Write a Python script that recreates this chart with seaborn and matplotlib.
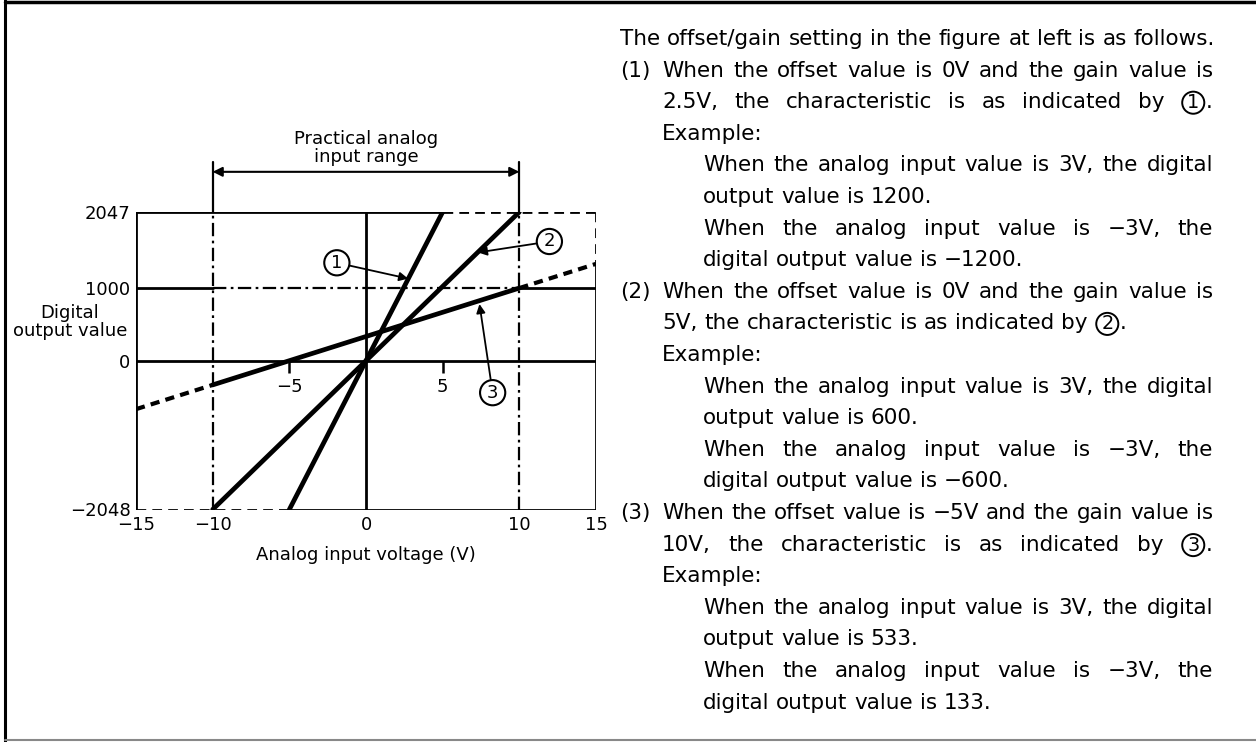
import numpy as np
import pandas as pd
import matplotlib
matplotlib.use("Agg")
import matplotlib.pyplot as plt
from matplotlib.lines import Line2D
import seaborn as sns

# characteristic lines (analog V -> digital value)
line1_x = [-5, 5]
line1_y = [-2048, 2047]
line2_x = [-10, 10]
line2_y = [-2048, 2047]
line3_x = [-10, 10]
line3_y = [-333, 1000]
line3_left_x = [-15, -10]
line3_left_y = [-667, -333]
line3_right_x = [10, 15]
line3_right_y = [1000, 1333]

x_lim = (-15, 15)
y_lim = (-2048, 2047)
xticks = [-15, -10, 0, 10, 15]
xtick_labels = ["\u221215", "\u221210", "0", "10", "15"]
yticks = [-2048, 0, 1000, 2047]
ytick_labels = ["\u22122048", "0", "1000", "2047"]
inner_ticks = [-5, 5]
inner_tick_labels = ["\u22125", "5"]
practical_range = [-10, 10]
mid_level = 1000

# right hand text: (item label, indent level, justified, text)
text_lines = [
    ("", 0, False, "The offset/gain setting in the figure at left is as follows."),
    ("(1)", 1, True, "When the offset value is 0V and the gain value is"),
    ("", 1, True, "2.5V, the characteristic is as indicated by \u2460."),
    ("", 1, False, "Example:"),
    ("", 2, True, "When the analog input value is 3V, the digital"),
    ("", 2, False, "output value is 1200."),
    ("", 2, True, "When the analog input value is \u22123V, the"),
    ("", 2, False, "digital output value is \u22121200."),
    ("(2)", 1, True, "When the offset value is 0V and the gain value is"),
    ("", 1, False, "5V, the characteristic is as indicated by \u2461."),
    ("", 1, False, "Example:"),
    ("", 2, True, "When the analog input value is 3V, the digital"),
    ("", 2, False, "output value is 600."),
    ("", 2, True, "When the analog input value is \u22123V, the"),
    ("", 2, False, "digital output value is \u2212600."),
    ("(3)", 1, True, "When the offset value is \u22125V and the gain value is"),
    ("", 1, True, "10V, the characteristic is as indicated by \u2462."),
    ("", 1, False, "Example:"),
    ("", 2, True, "When the analog input value is 3V, the digital"),
    ("", 2, False, "output value is 533."),
    ("", 2, True, "When the analog input value is \u22123V, the"),
    ("", 2, False, "digital output value is 133."),
]
circled = {"\u2460": "1", "\u2461": "2", "\u2462": "3"}

W, H = 1256, 742
sns.set_style("white")
plt.rcParams['font.family'] = ['DejaVu Sans']
plt.rcParams['text.color'] = 'black'
plt.rcParams['xtick.color'] = 'black'
plt.rcParams['ytick.color'] = 'black'
plt.rcParams['axes.labelcolor'] = 'black'

fig = plt.figure(figsize=(W / 100, H / 100), dpi=100)
ax = fig.add_axes([136 / W, 1 - 509.5 / H, 460 / W, 297.5 / H])
ax.set_xlim(*x_lim)
ax.set_ylim(*y_lim)
for s in ax.spines.values():
    s.set_visible(False)

k = 'black'
frame_lw = 2.0
dash = (0, (3.5, 2.2))
dashdot = (0, (6, 2, 1.2, 2))
cfs = 13

# frame and reference lines
ax.plot([x_lim[0]] * 2, y_lim, color=k, lw=frame_lw)
ax.plot([x_lim[0], line1_x[1]], [y_lim[1]] * 2, color=k, lw=frame_lw)
ax.plot([line1_x[1], x_lim[1]], [y_lim[1]] * 2, color=k, lw=frame_lw, ls=dash)
ax.plot([x_lim[1]] * 2, [y_lim[1], line3_right_y[1]], color=k, lw=frame_lw, ls=dash)
ax.plot([x_lim[1]] * 2, [line3_right_y[1], y_lim[0]], color=k, lw=frame_lw)
ax.plot([x_lim[0], line1_x[0]], [y_lim[0]] * 2, color=k, lw=frame_lw, ls=dash)
ax.plot([line1_x[0], x_lim[1]], [y_lim[0]] * 2, color=k, lw=frame_lw)
ax.plot(x_lim, [0, 0], color=k, lw=frame_lw)
ax.plot([0, 0], y_lim, color=k, lw=frame_lw)
ax.plot([x_lim[0], practical_range[0]], [mid_level] * 2, color=k, lw=frame_lw)
ax.plot(practical_range, [mid_level] * 2, color=k, lw=1.6, ls=dashdot)
ax.plot([practical_range[1], x_lim[1]], [mid_level] * 2, color=k, lw=frame_lw)
for xv in practical_range:
    ax.plot([xv, xv], y_lim, color=k, lw=1.6, ls=dashdot)
    ax.plot([xv, xv], [y_lim[1], 2737], color=k, lw=1.6, clip_on=False)

ax.vlines(inner_ticks, -165, 0, color=k, lw=1.8)
for xv, lab in zip(inner_ticks, inner_tick_labels):
    ax.text(xv, -360, lab, ha='center', va='center', fontsize=cfs)

# characteristic lines
for xs, ys in [(line1_x, line1_y), (line2_x, line2_y), (line3_x, line3_y)]:
    sns.lineplot(x=xs, y=ys, color=k, lw=3.4, ax=ax)
for xs, ys in [(line3_left_x, line3_left_y), (line3_right_x, line3_right_y)]:
    sns.lineplot(x=xs, y=ys, color=k, lw=3.0, ax=ax, linestyle=(0, (2.2, 1.5)))

ax.set_xticks(xticks, xtick_labels)
ax.set_yticks(yticks, ytick_labels)
ax.tick_params(axis='x', length=0, pad=5, labelsize=cfs)
ax.tick_params(axis='y', length=0, pad=4, labelsize=cfs)
ax.set_xlabel("Analog input voltage (V)", fontsize=cfs, labelpad=8)
ax.set_ylabel("")
ax.text(-19.3, 536, "Digital\noutput value", ha='center', va='center',
        fontsize=cfs, linespacing=1.0, clip_on=False)

# practical analog input range
ax.annotate('', xy=(practical_range[0], 2600), xytext=(practical_range[1], 2600),
            arrowprops=dict(arrowstyle='<|-|>', color=k, lw=1.5, shrinkA=0, shrinkB=0,
                            mutation_scale=14), annotation_clip=False)
ax.text(0, 2930, "Practical analog\ninput range", ha='center', va='center',
        fontsize=cfs, linespacing=1.0, clip_on=False)

# circled labels
circ = dict(boxstyle='circle,pad=0.2', fc='white', ec=k, lw=1.5)
labels = [('1', (-1.9, 1348), (2.75, 1130)),
          ('2', (11.96, 1641), (7.3, 1490)),
          ('3', (8.26, -440), (7.4, 780))]
for lab, pos, tip in labels:
    ax.annotate(lab, xy=tip, xytext=pos, ha='center', va='center', fontsize=cfs,
                bbox=circ, annotation_clip=False,
                arrowprops=dict(arrowstyle='-|>', color=k, lw=1.3, shrinkA=0, shrinkB=0,
                                mutation_scale=13))

# right hand text, justified like the manual
renderer = fig.canvas.get_renderer()
indent_px = [620, 662, 703]
right_px = 1213

# pick the size so the opening line has the manual's width
probe = fig.text(0, 0, text_lines[0][3], fontsize=10)
fs = 10 * (right_px - indent_px[0]) / probe.get_window_extent(renderer).width
probe.remove()
circ_d = fs * 1.389 * 1.2


def make_word(w, base):
    # list of (artist, width, is_circle)
    parts = []
    if w[0] in circled:
        a = fig.text(0, base, circled[w[0]], fontsize=fs * 0.9, va='baseline',
                     ha='center',
                     bbox=dict(boxstyle='circle,pad=0.08', fc='none', ec=k, lw=1.4))
        parts.append((a, circ_d, True))
        w = w[1:]
    if w:
        a = fig.text(0, base, w, fontsize=fs, va='baseline')
        parts.append((a, a.get_window_extent(renderer).width, False))
    return parts


def place(parts, xp):
    for a, wd, is_c in parts:
        a.set_x((xp + wd / 2 if is_c else xp) / W)
        xp += wd
    return xp


for i, (item, lvl, just, line) in enumerate(text_lines):
    base = 1 - (45 + 31.6 * i) / H
    if item:
        fig.text(indent_px[0] / W, base, item, fontsize=fs, va='baseline')
    words = [make_word(w, base) for w in line.split()]
    widths = [sum(p[1] for p in parts) for parts in words]
    space = fs * 1.389 * 0.32
    if just and len(words) > 1:
        space = (right_px - indent_px[lvl] - sum(widths)) / (len(words) - 1)
    xp = indent_px[lvl]
    for parts, wd in zip(words, widths):
        place(parts, xp)
        xp += wd + space

# page border
fig.add_artist(Line2D([5 / W, 5 / W], [0, 1], color=k, lw=2.2))
fig.add_artist(Line2D([5 / W, 1], [1 - 2 / H, 1 - 2 / H], color=k, lw=2.5))
fig.add_artist(Line2D([5 / W, 1], [1 - 740 / H, 1 - 740 / H], color='#888888', lw=1.5))

fig.savefig("out.png", dpi=100)
